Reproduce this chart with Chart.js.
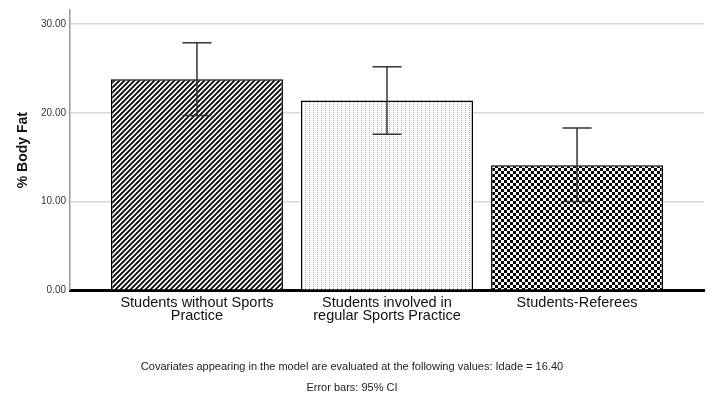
<!DOCTYPE html>
<html>
<head>
<meta charset="utf-8">
<script src="https://cdn.jsdelivr.net/npm/chart.js@4.4.1/dist/chart.umd.min.js"></script>
<style>
  html, body { margin: 0; padding: 0; background: #fff; }
  #wrap { width: 718px; height: 402px; }
</style>
</head>
<body>
<div id="wrap"><canvas id="fatChart"></canvas></div>
<script>
// Data
const categories = [
  ['Students without Sports', 'Practice'],
  ['Students involved in', 'regular Sports Practice'],
  ['Students-Referees']
];
const meanFat = [23.8, 21.4, 14.1];
const ciLow = [19.7, 17.6, 10.0];
const ciHigh = [27.9, 25.2, 18.3];
const yTicks = [0, 10, 20, 30];
const footNotes = [
  'Covariates appearing in the model are evaluated at the following values: Idade = 16.40',
  'Error bars: 95% CI'
];

const FONT = "'Liberation Sans', Arial, sans-serif";

// --- fill patterns (stripes, dots, checkerboard) ---
function makeTile(size, draw) {
  const c = document.createElement('canvas');
  c.width = size; c.height = size;
  const g = c.getContext('2d');
  g.fillStyle = '#fff';
  g.fillRect(0, 0, size, size);
  draw(g, size);
  return g.createPattern(c, 'repeat');
}

const stripes = makeTile(5, (g, s) => {
  g.strokeStyle = '#000';
  g.lineWidth = 1.8;
  g.beginPath();
  g.moveTo(-1, s + 1); g.lineTo(s + 1, -1);
  g.moveTo(-1, 1); g.lineTo(1, -1);
  g.moveTo(s - 1, s + 1); g.lineTo(s + 1, s - 1);
  g.stroke();
});

const dots = makeTile(4, (g) => {
  g.fillStyle = '#a8a8a8';
  g.fillRect(1, 0, 1, 1);
  g.fillRect(1, 2, 1, 1);
});

const checks = makeTile(6, (g) => {
  g.fillStyle = '#000';
  g.fillRect(0, 0, 3, 3);
  g.fillRect(3, 3, 3, 3);
});

// --- error bars drawn through the scales ---
const errorBars = {
  id: 'errorBars',
  afterDatasetsDraw(chart) {
    const { ctx, scales: { y } } = chart;
    const meta = chart.getDatasetMeta(0);
    ctx.save();
    ctx.strokeStyle = '#333';
    ctx.lineWidth = 1.5;
    meta.data.forEach((bar, i) => {
      const top = y.getPixelForValue(ciHigh[i]);
      const bot = y.getPixelForValue(ciLow[i]);
      const half = 14.5;
      ctx.beginPath();
      ctx.moveTo(bar.x, top); ctx.lineTo(bar.x, bot);
      ctx.moveTo(bar.x - half, top); ctx.lineTo(bar.x + half, top);
      ctx.moveTo(bar.x - half, bot); ctx.lineTo(bar.x + half, bot);
      ctx.stroke();
    });
    ctx.restore();
  }
};

const pad = 0.168;

new Chart(document.getElementById('fatChart'), {
  type: 'bar',
  data: {
    datasets: [{
      data: meanFat.map((v, i) => ({ x: i, y: v })),
      backgroundColor: [stripes, dots, checks],
      borderColor: '#000',
      borderWidth: 1.5,
      barPercentage: 0.905,
      categoryPercentage: 1
    }]
  },
  options: {
    responsive: true,
    maintainAspectRatio: false,
    animation: false,
    layout: { padding: { top: 10, right: 14, left: 0, bottom: 0 } },
    plugins: {
      legend: { display: false },
      tooltip: { enabled: false },
      title: {
        display: true,
        position: 'bottom',
        text: footNotes,
        color: '#222',
        font: { family: FONT, size: 11, weight: 'normal', lineHeight: 1.9 },
        padding: { top: 6, bottom: 4 }
      }
    },
    scales: {
      x: {
        type: 'linear',
        offset: false,
        min: -0.5 - pad,
        max: categories.length - 0.5 + pad,
        grid: { display: false, drawTicks: false },
        border: { color: '#000', width: 3 },
        afterBuildTicks: (scale) => {
          scale.ticks = categories.map((c, i) => ({ value: i }));
        },
        afterFit: (scale) => { scale.height = 60; },
        ticks: {
          padding: 6,
          color: '#111',
          maxRotation: 0,
          autoSkip: false,
          font: { family: FONT, size: 14.5, lineHeight: 0.9 },
          callback: (v) => categories[v]
        }
      },
      y: {
        min: 0,
        max: 31.6,
        grid: { color: '#d9d9d9', lineWidth: 1.5, drawTicks: false },
        border: { color: '#9a9a9a', width: 1.5 },
        afterBuildTicks: (scale) => {
          scale.ticks = yTicks.map(v => ({ value: v }));
        },
        afterFit: (scale) => { scale.width = 70; },
        ticks: {
          padding: 4,
          color: '#333',
          font: { family: FONT, size: 10 },
          callback: (v) => v.toFixed(2)
        },
        title: {
          display: true,
          text: '% Body Fat',
          color: '#111',
          font: { family: FONT, size: 14, weight: 'bold' },
          padding: { top: 15, bottom: 0 }
        }
      }
    }
  },
  plugins: [errorBars]
});
</script>
</body>
</html>
